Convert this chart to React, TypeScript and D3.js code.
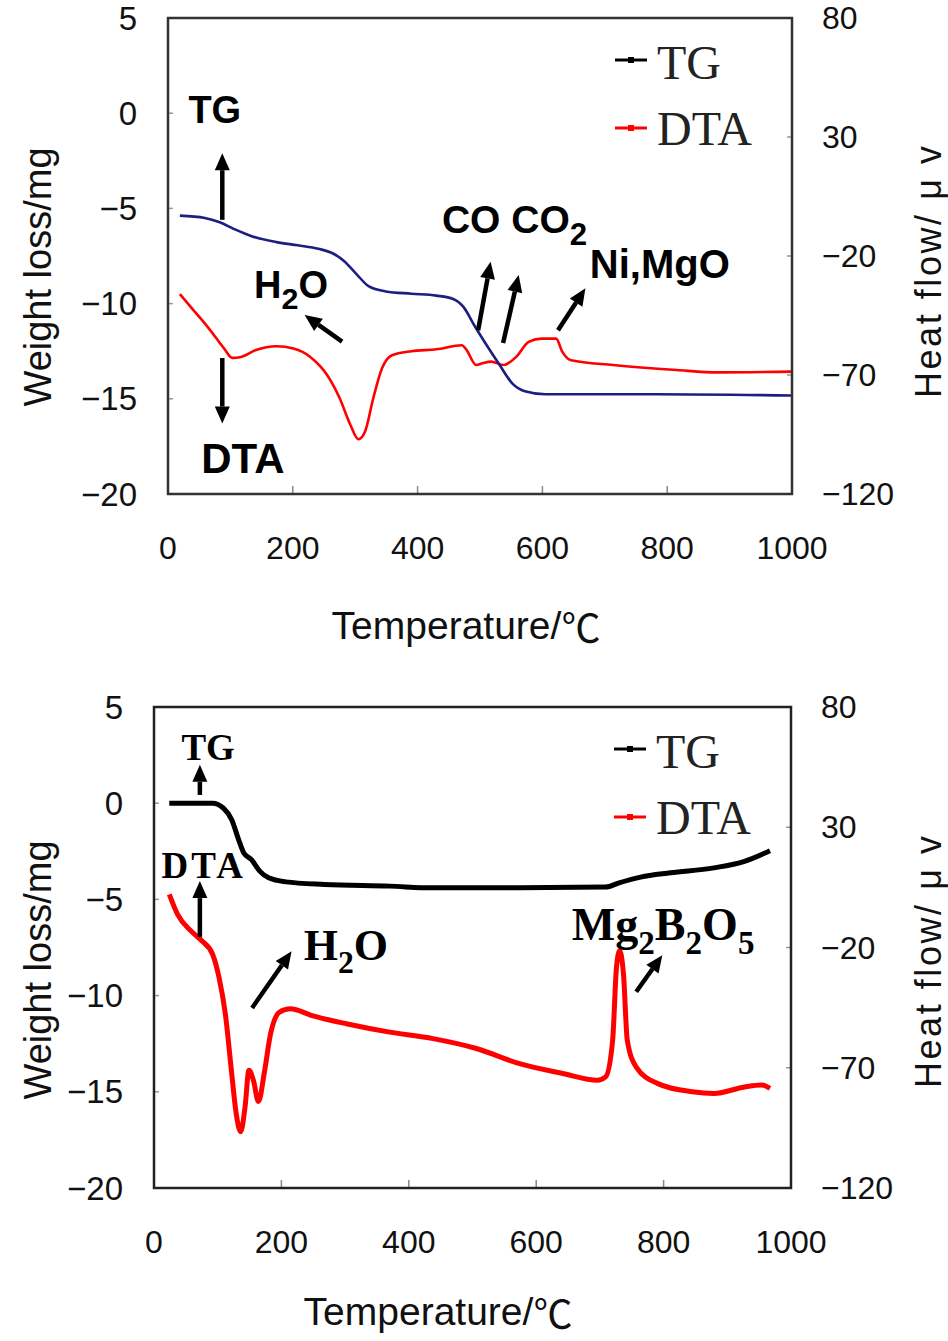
import React from "react";
import * as d3 from "d3";

const SANS = "'Liberation Sans', Arial, sans-serif";
const SERIF = "'Liberation Serif', 'Times New Roman', serif";
const CJK = "'Noto Sans CJK JP', 'Noto Sans CJK SC', sans-serif";

// shared axes
const tempTicks = [0, 200, 400, 600, 800, 1000];
const weightTicks = [5, 0, -5, -10, -15, -20];
const heatTicks = [80, 30, -20, -70, -120];

// upper chart: TG (mg) and DTA (uV) vs temperature
const aTgTemp = [19, 59, 83, 107, 134, 174, 208, 241, 262, 282, 302, 322, 349, 390, 430, 457, 474, 491, 511, 531, 552, 572, 605, 646, 781, 1000];
const aTgVal = [-5.38, -5.5, -5.73, -6.1, -6.46, -6.77, -6.94, -7.12, -7.33, -7.76, -8.45, -9.1, -9.36, -9.48, -9.58, -9.76, -10.2, -11.15, -12.2, -13.2, -14.2, -14.6, -14.76, -14.76, -14.76, -14.83];
const aDtaTemp = [19, 39, 66, 90, 103, 117, 140, 174, 201, 228, 255, 275, 292, 305, 316, 329, 343, 359, 390, 430, 471, 477, 494, 504, 518, 538, 558, 578, 599, 622, 632, 646, 713, 815, 882, 1000];
const aDtaVal = [-36, -42.2, -50.6, -58.9, -62.8, -62.4, -59.6, -57.9, -58.9, -62.4, -70, -79.7, -90.8, -97, -93.6, -79.7, -67.2, -61.7, -60, -59.2, -57.5, -58.9, -65.8, -65.1, -64.4, -65.8, -62.4, -56.1, -54.7, -54.7, -60.3, -63.8, -65.8, -67.9, -68.9, -68.6];

// lower chart
const bTgTemp = [24, 92, 109, 122, 132, 141, 153, 166, 180, 207, 268, 370, 438, 574, 709, 730, 764, 811, 879, 927, 967];
const bTgVal = [0, 0, -0.26, -0.86, -1.81, -2.59, -2.93, -3.53, -3.88, -4.09, -4.22, -4.31, -4.4, -4.4, -4.36, -4.14, -3.84, -3.62, -3.36, -3.02, -2.47];
const bDtaTemp = [24, 37, 58, 75, 92, 102, 112, 122, 129, 136, 143, 149, 156, 164, 173, 183, 197, 214, 248, 302, 370, 438, 506, 574, 642, 696, 709, 720, 726, 731, 737, 743, 757, 791, 845, 879, 927, 954, 967];
const bDtaVal = [2.1, -6.2, -13.1, -17.2, -22.8, -32.4, -47.6, -72.4, -89, -96.6, -86.2, -71, -75.2, -84, -72.4, -55.9, -46.9, -45.5, -48.3, -51.7, -55.2, -57.9, -62, -68.3, -72.4, -75.2, -73.8, -58.6, -28.3, -21.4, -31, -58.6, -69.7, -76.6, -80, -80.7, -78, -77.2, -78.6];

// annotations, in (temperature, weight) units
const aLabels = [
  { t: 75, v: -0.5, parts: [["TG"]], size: 38, anchor: "middle" },
  { t: 120, v: -18.9, parts: [["DTA"]], size: 42, anchor: "middle" },
  { t: 138, v: -9.7, parts: [["H"], ["2", 1], ["O"]], size: 38, anchor: "start" },
  { t: 439, v: -6.3, parts: [["CO CO"], ["2", 1]], size: 39, anchor: "start" },
  { t: 676, v: -8.66, parts: [["Ni,MgO"]], size: 40, anchor: "start" },
];
const aArrows = [
  [87, -5.6, 87, -2.1],
  [87, -12.86, 87, -16.3],
  [279, -12.0, 219, -10.6],
  [497, -11.4, 517, -7.8],
  [537, -12.07, 562, -8.5],
  [625, -11.4, 669, -9.2],
];
const bLabels = [
  { t: 85, v: 2.25, parts: [["TG"]], size: 37, anchor: "middle" },
  { t: 78, v: -3.9, parts: [["DTA"]], size: 37, anchor: "middle", spacing: 3 },
  { t: 235, v: -8.15, parts: [["H"], ["2", 1], ["O"]], size: 44, anchor: "start" },
  { t: 656, v: -7.1, parts: [["Mg"], ["2", 1], ["B"], ["2", 1], ["O"], ["5", 1]], size: 46, anchor: "start" },
];
const bArrows = [
  [72, 0.43, 72, 2.0],
  [72, -6.95, 72, -4.05],
  [154, -10.64, 216, -7.7],
  [757, -9.8, 798, -7.9],
];

const fmt = (v: number) => (v < 0 ? "\u2212" + Math.abs(v) : String(v));

function Arrow({ x1, y1, x2, y2 }: any) {
  const head = 17;
  const dx = x2 - x1, dy = y2 - y1;
  const len = Math.hypot(dx, dy);
  const ux = dx / len, uy = dy / len;
  const bx = x2 - ux * head, by = y2 - uy * head;
  const hw = 7.5;
  return (
    <g>
      <line x1={x1} y1={y1} x2={bx} y2={by} stroke="#000" strokeWidth={4.5} />
      <polygon
        points={`${x2},${y2} ${bx - uy * hw},${by + ux * hw} ${bx + uy * hw},${by - ux * hw}`}
        fill="#000"
      />
    </g>
  );
}

function Label({ x, y, parts, size, anchor, font, spacing, subScale }: any) {
  let shifted = false;
  const drop = size * 0.3;
  return (
    <text x={x} y={y} fontFamily={font} fontWeight="bold" fontSize={size}
      textAnchor={anchor} letterSpacing={spacing || 0} fill="#000">
      {parts.map((p: any, i: number) => {
        const sub = !!p[1];
        let dy = 0;
        if (sub && !shifted) dy = drop;
        if (!sub && shifted) dy = -drop;
        shifted = sub;
        return (
          <tspan key={i} dy={dy} fontSize={sub ? size * subScale : size}>{p[0]}</tspan>
        );
      })}
    </text>
  );
}

function Panel(props: any) {
  const { box, tgT, tgV, dtaT, dtaV, tgColor, lineW, borderColor, labels, arrows, labelFont, subScale, titles } = props;
  const x = d3.scaleLinear().domain([0, 1000]).range([box.left, box.right]);
  const yL = d3.scaleLinear().domain([-20, 5]).range([box.bottom, box.top]);
  const yR = d3.scaleLinear().domain([-120, 80]).range([box.bottom, box.top]);

  const tgLine = d3.line<number>()
    .x((_, i) => x(tgT[i]))
    .y((d) => yL(d))
    .curve(d3.curveMonotoneX);
  const dtaLine = d3.line<number>()
    .x((_, i) => x(dtaT[i]))
    .y((d) => yR(d))
    .curve(d3.curveMonotoneX);

  const legX = box.right - 177;
  return (
    <g>
      {/* ticks */}
      {weightTicks.slice(1, -1).map((v) => (
        <line key={"l" + v} x1={box.left} x2={box.left + 5} y1={yL(v)} y2={yL(v)} stroke="#999" strokeWidth={1.5} />
      ))}
      {heatTicks.slice(1, -1).map((v) => (
        <line key={"r" + v} x1={box.right - 5} x2={box.right} y1={yR(v)} y2={yR(v)} stroke="#999" strokeWidth={1.5} />
      ))}
      {tempTicks.slice(1, -1).map((t) => (
        <line key={"b" + t} x1={x(t)} x2={x(t)} y1={box.bottom} y2={box.bottom - 8} stroke="#888" strokeWidth={1.5} />
      ))}

      <path d={dtaLine(dtaV) || ""} fill="none" stroke="#ff0000" strokeWidth={lineW} strokeLinejoin="round" />
      <path d={tgLine(tgV) || ""} fill="none" stroke={tgColor} strokeWidth={lineW} strokeLinejoin="round" />

      <rect x={box.left} y={box.top} width={box.right - box.left} height={box.bottom - box.top}
        fill="none" stroke={borderColor} strokeWidth={2.5} />

      {/* tick labels */}
      {weightTicks.map((v) => (
        <text key={"tl" + v} x={box.left - 31} y={yL(v)} textAnchor="end" dominantBaseline="central"
          fontFamily={SANS} fontSize={33} fill="#111">{fmt(v)}</text>
      ))}
      {heatTicks.map((v) => (
        <text key={"tr" + v} x={box.right + 30} y={yR(v)} textAnchor="start" dominantBaseline="central"
          fontFamily={SANS} fontSize={32} fill="#111">{fmt(v)}</text>
      ))}
      {tempTicks.map((t) => (
        <text key={"tb" + t} x={x(t)} y={box.bottom + 54} textAnchor="middle" dominantBaseline="central"
          fontFamily={SANS} fontSize={32} fill="#111">{t}</text>
      ))}

      {/* axis titles */}
      <text transform={`translate(${titles.left[0]},${titles.left[1]}) rotate(-90)`} textAnchor="middle"
        dominantBaseline="central" fontFamily={SANS} fontSize={38} fill="#111">Weight loss/mg</text>
      <text transform={`translate(${titles.right[0]},${titles.right[1]}) rotate(-90)`} textAnchor="middle"
        dominantBaseline="central" fontFamily={SANS} fontSize={36} fill="#111"
        textLength={252} lengthAdjust="spacing">Heat flow/ μ v</text>
      <text x={titles.bottom[0]} y={titles.bottom[1]} textAnchor="middle" dominantBaseline="central"
        fontFamily={SANS} fontSize={39} fill="#111">
        Temperature/<tspan fontFamily={CJK}>℃</tspan>
      </text>

      {/* legend */}
      <line x1={legX} x2={legX + 32} y1={box.top + 42} y2={box.top + 42} stroke="#000" strokeWidth={3} />
      <rect x={legX + 13} y={box.top + 39} width={6} height={6} fill="#000" />
      <text x={legX + 42} y={box.top + 61} fontFamily={SERIF} fontSize={48} fill="#222">TG</text>
      <line x1={legX} x2={legX + 32} y1={box.top + 110} y2={box.top + 110} stroke="#ff0000" strokeWidth={3} />
      <rect x={legX + 13} y={box.top + 107} width={6} height={6} fill="#ff0000" />
      <text x={legX + 42} y={box.top + 127} fontFamily={SERIF} fontSize={48} fill="#222">DTA</text>

      {/* annotations */}
      {arrows.map((a: number[], i: number) => (
        <Arrow key={"a" + i} x1={x(a[0])} y1={yL(a[1])} x2={x(a[2])} y2={yL(a[3])} />
      ))}
      {labels.map((l: any, i: number) => (
        <Label key={"n" + i} x={x(l.t)} y={yL(l.v)} parts={l.parts} size={l.size}
          anchor={l.anchor} font={labelFont} spacing={l.spacing} subScale={subScale} />
      ))}
    </g>
  );
}

export default function App() {
  return (
    <svg width={948} height={1341} style={{ position: "absolute", left: 0, top: 0, background: "#fff" }}>
      <rect width={948} height={1341} fill="#fff" />
      <Panel
        box={{ left: 168, right: 792, top: 18, bottom: 494 }}
        tgT={aTgTemp} tgV={aTgVal} dtaT={aDtaTemp} dtaV={aDtaVal}
        tgColor="#1c1f80" lineW={2.6} borderColor="#333"
        labels={aLabels} arrows={aArrows} labelFont={SANS} subScale={0.8}
        titles={{ left: [38, 277], right: [928, 272], bottom: [466, 625] }}
      />
      <Panel
        box={{ left: 154, right: 791, top: 707, bottom: 1188 }}
        tgT={bTgTemp} tgV={bTgVal} dtaT={bDtaTemp} dtaV={bDtaVal}
        tgColor="#000" lineW={5} borderColor="#222"
        labels={bLabels} arrows={bArrows} labelFont={SERIF} subScale={0.72}
        titles={{ left: [38, 970], right: [928, 962], bottom: [438, 1311] }}
      />
    </svg>
  );
}
